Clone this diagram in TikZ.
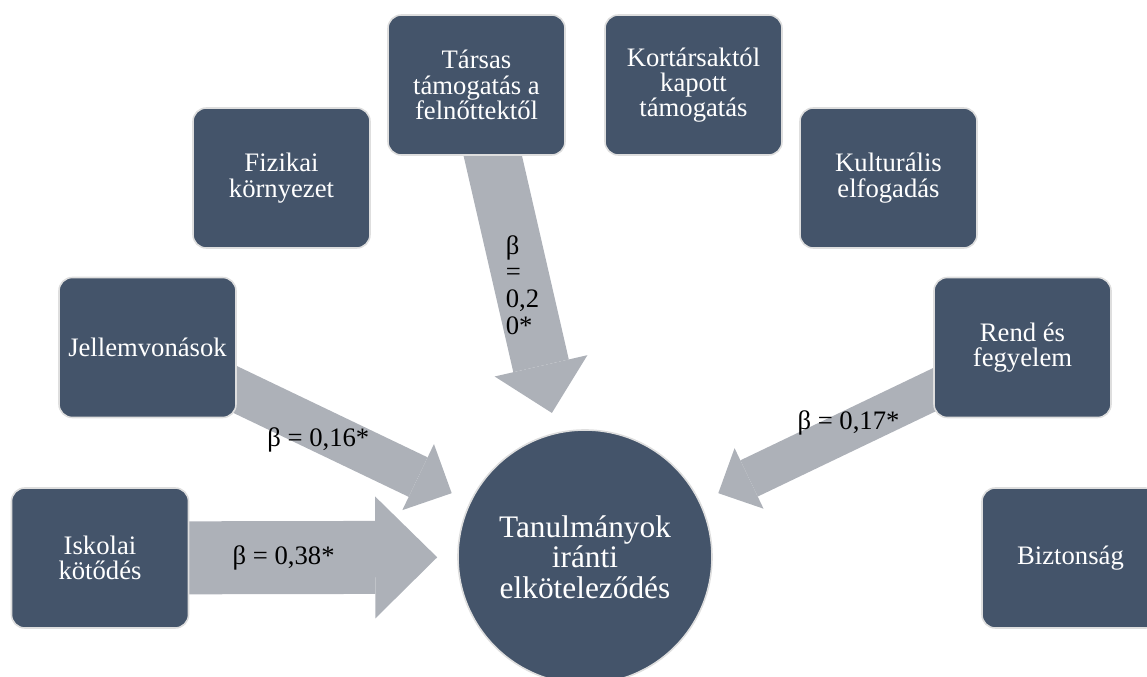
\documentclass[tikz,border=0pt]{standalone}
\usepackage{fontspec}
\setmainfont{Liberation Serif}
\usetikzlibrary{arrows.meta, backgrounds}
\definecolor{SB}{RGB}{68,84,106}
\definecolor{AG}{RGB}{173,177,184}
\definecolor{RIM}{RGB}{222,222,222}

\begin{document}
\begin{tikzpicture}[
  x=0.75pt, y=-0.75pt,
  fac/.style={draw=RIM, line width=1.2pt, fill=SB, rounded corners=10pt,
              minimum width=132.75pt, minimum height=105pt, align=center,
              text=white, font=\fontsize{20}{19}\selectfont, inner sep=2pt},
  core/.style={draw=RIM, line width=1.2pt, fill=SB, circle, minimum size=190.5pt,
               align=center, text=white, font=\fontsize{23.5}{23}\selectfont},
  barr/.style={draw=AG, line width=#1*54.75pt,
               -{Triangle[length=46.5pt, width=91.5pt, line width=0pt, scale=#1]},
               shorten >=15pt},
  blbl/.style={font=\fontsize{20}{20}\selectfont, text=black, inner sep=0pt}
]
\useasboundingbox (0,0) rectangle (1147,677);

\node[core] (ce) at (585,557) {Tanulmányok\\iránti\\elköteleződés};

\node[fac] (tar) at (476.5,85)   {Társas\\támogatás a\\felnőttektől};
\node[fac] (kor) at (693.5,85)   {Kortársaktól\\kapott\\támogatás};
\node[fac] (fiz) at (281.5,178)  {Fizikai\\környezet};
\node[fac] (kul) at (888.5,178)  {Kulturális\\elfogadás};
\node[fac] (jel) at (147.5,347.5){Jellemvonások};
\node[fac] (ren) at (1022.5,347.5){Rend és\\fegyelem};
\node[fac] (isk) at (100,558)    {Iskolai\\kötődés};
\node[fac] (biz) at (1070.5,558) {Biztonság};

\begin{scope}[on background layer]
\draw[barr=1] (isk.center)--(ce) node[blbl, pos=0.514] (b38) {β = 0,38*};
\draw[barr=0.78] (tar.center)--(ce)
  node[blbl, pos=0.575, align=left] (b20) {β\\=\\0,2\\0*};
\draw[barr=0.6] (jel.center)--(ce) node[blbl, pos=0.53, yshift=-8pt] (b16) {β = 0,16*};
\draw[barr=0.55] (ren.center)--(ce) node[blbl, pos=0.54, yshift=6pt] (b17) {β = 0,17*};
\end{scope}
\end{tikzpicture}
\end{document}
